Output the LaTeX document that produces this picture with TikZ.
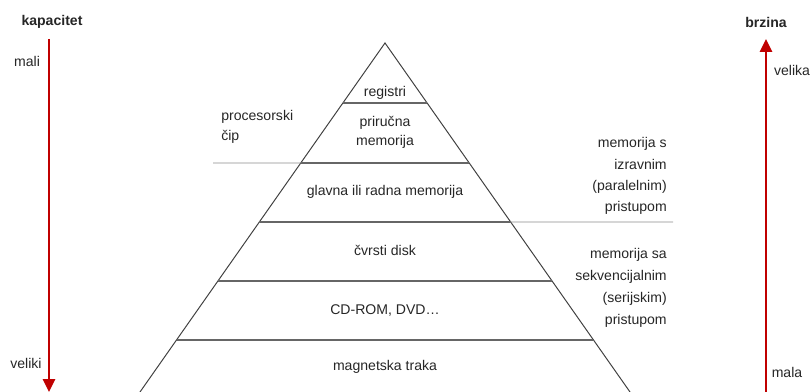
\documentclass[tikz,border=0pt]{standalone}
\usepackage{fontspec}
\setmainfont{Liberation Sans}
\usetikzlibrary{arrows.meta,calc}

\definecolor{crvena}{RGB}{192,0,0}
\tikzset{
	strelica/.style={draw=crvena, line width=1.8pt, -{Triangle[length=3.2mm,width=3mm]}},
	razina/.style={draw=black!60, line width=0.9pt},
	granica/.style={draw=black!45, line width=0.6pt},
	tekst/.style={font=\fontsize{10}{14}\selectfont, text=black!85, inner sep=0pt},
	naslov/.style={tekst, font=\fontsize{10}{14}\selectfont\bfseries}
}

\begin{document}
\begin{tikzpicture}[x=0.025cm,y=-0.025cm]
	%\draw[help lines] (0,0) grid (811,392);
	\useasboundingbox (0,0) rectangle (811,392);

	%KAPACITET
	\node[naslov] (kap) at (52,22) {kapacitet};
	\coordinate (k1) at (49,39);
	\coordinate (k2) at (49,392);
	\draw[strelica] (k1) -- (k2);
	\node[tekst] (mali) at (27,61) {mali};
	\node[tekst] (veliki) at (26,363) {veliki};

	%BRZINA
	\node[naslov] (brz) at (766,22) {brzina};
	\coordinate (b1) at (766,392);
	\coordinate (b2) at (766,39);
	\draw[strelica] (b1) -- (b2);
	\node[tekst] (velika) at (792,70) {velika};
	\node[tekst] (mala) at (787,372) {mala};

	%PIRAMIDA
	\coordinate (V) at (385,43);
	\coordinate (L) at (140,392);
	\coordinate (D) at (630,392);
	\draw[black!75, line width=0.7pt] (L) -- (V) -- (D);
	\foreach \y in {103,163,222,281,340}
		\draw[razina] ($(V)!{(\y-43)/349}!(L)$) -- ($(V)!{(\y-43)/349}!(D)$);
	%granice
	\coordinate (g1) at (213,163);
	\coordinate (g2) at (673,222);
	\draw[granica] (g1) -- ($(V)!{(163-43)/349}!(L)$);
	\draw[granica] ($(V)!{(222-43)/349}!(D)$) -- (g2);

	%RAZINE
	\node[tekst] (reg) at (385,93) {registri};
	\node[tekst, align=center, font=\fontsize{10}{13.5}\selectfont] (cache) at (385,132) {priručna\\memorija};
	\node[tekst] (ram) at (385,192) {glavna ili radna memorija};
	\node[tekst] (disk) at (385,250) {čvrsti disk};
	\node[tekst] (cd) at (385,310) {CD-ROM, DVD…};
	\node[tekst] (traka) at (385,367) {magnetska traka};

	%OPISI
	\node[tekst, align=left] (cip) at (221,127) [anchor=west] {procesorski\\čip};
	\node[tekst, align=right, font=\fontsize{10}{15}\selectfont] (izr) at (667,176) [anchor=east] {memorija s\\izravnim\\(paralelnim)\\pristupom};
	\node[tekst, align=right, font=\fontsize{10}{15.5}\selectfont] (sek) at (667,288) [anchor=east] {memorija sa\\sekvencijalnim\\(serijskim)\\pristupom};
\end{tikzpicture}
\end{document}
